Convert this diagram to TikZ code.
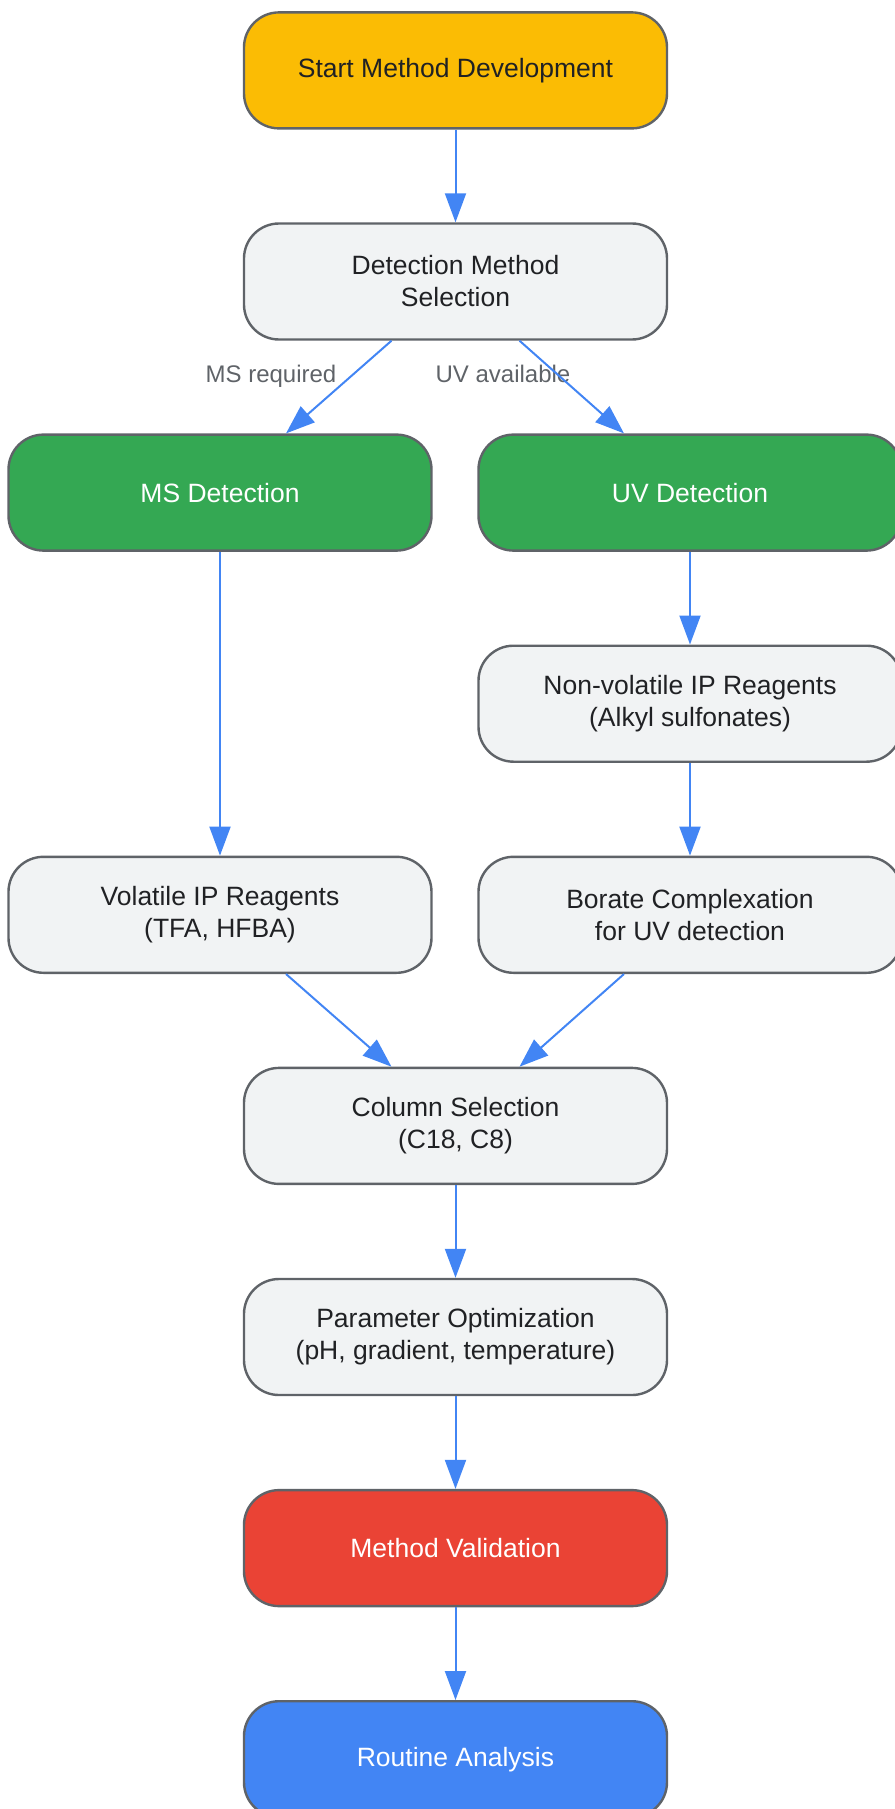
\documentclass[tikz,border=0pt]{standalone}
\usepackage{fontspec}
\setmainfont{Liberation Sans}
\usetikzlibrary{arrows.meta}
\definecolor{startyellow}{HTML}{FBBC04}
\definecolor{boxgray}{HTML}{F1F3F4}
\definecolor{bordergray}{HTML}{5F6368}
\definecolor{detgreen}{HTML}{34A853}
\definecolor{valred}{HTML}{EA4335}
\definecolor{routblue}{HTML}{4285F4}
\definecolor{textdark}{HTML}{202124}
\tikzstyle{basebox} = [rectangle, rounded corners=17.5pt, minimum width=211.5pt, minimum height=58pt, text centered, align=center, draw=bordergray, line width=1.2pt, font=\fontsize{13.25pt}{16pt}\selectfont]
\tikzstyle{startstop} = [basebox, fill=startyellow, text=textdark]
\tikzstyle{process} = [basebox, fill=boxgray, text=textdark]
\tikzstyle{detect} = [basebox, fill=detgreen, text=white]
\tikzstyle{validate} = [basebox, fill=valred, text=white]
\tikzstyle{routine} = [basebox, fill=routblue, text=white]
\tikzstyle{edgelabel} = [text=bordergray, anchor=base, font=\fontsize{12pt}{14pt}\selectfont]
\tikzstyle{arrow} = [line width=1pt, draw=routblue, -{Triangle[length=14.5pt,width=10.5pt]}]

\begin{document}
\begin{tikzpicture}[node distance=105.55pt]
\useasboundingbox (-227.75pt,35.2pt) rectangle (219.25pt,-869.3pt);
\node (start) [startstop] {Start Method Development};
\node (det) [process, below of=start] {Detection Method\\Selection};
\node (ms) [detect, below of=det, xshift=-117.75pt] {MS Detection};
\node (uv) [detect, below of=det, xshift=117.25pt] {UV Detection};
\node (nonvol) [process, below of=uv] {Non-volatile IP Reagents\\(Alkyl sulfonates)};
\node (vol) [process, below of=ms, yshift=-105.55pt] {Volatile IP Reagents\\(TFA, HFBA)};
\node (borate) [process, below of=nonvol] {Borate Complexation\\for UV detection};
\node (col) [process, below of=vol, xshift=117.75pt] {Column Selection\\(C18, C8)};
\node (param) [process, below of=col] {Parameter Optimization\\(pH, gradient, temperature)};
\node (valid) [validate, below of=param] {Method Validation};
\node (rout) [routine, below of=valid] {Routine Analysis};

\node (msreq) [edgelabel] at ([xshift=-92.25pt, yshift=-50.5pt]det.center) {MS required};
\node (uvav) [edgelabel] at ([xshift=23.75pt, yshift=-50.5pt]det.center) {UV available};

\draw [arrow] (start) -- (det);
\draw [arrow] ([xshift=-32pt]det.south) -- ([xshift=33pt]ms.north);
\draw [arrow] ([xshift=32pt]det.south) -- ([xshift=-33pt]uv.north);
\draw [arrow] (ms) -- (vol);
\draw [arrow] (uv) -- (nonvol);
\draw [arrow] (nonvol) -- (borate);
\draw [arrow] ([xshift=33pt]vol.south) -- ([xshift=-32pt]col.north);
\draw [arrow] ([xshift=-33pt]borate.south) -- ([xshift=32pt]col.north);
\draw [arrow] (col) -- (param);
\draw [arrow] (param) -- (valid);
\draw [arrow] (valid) -- (rout);

\end{tikzpicture}
\end{document}
